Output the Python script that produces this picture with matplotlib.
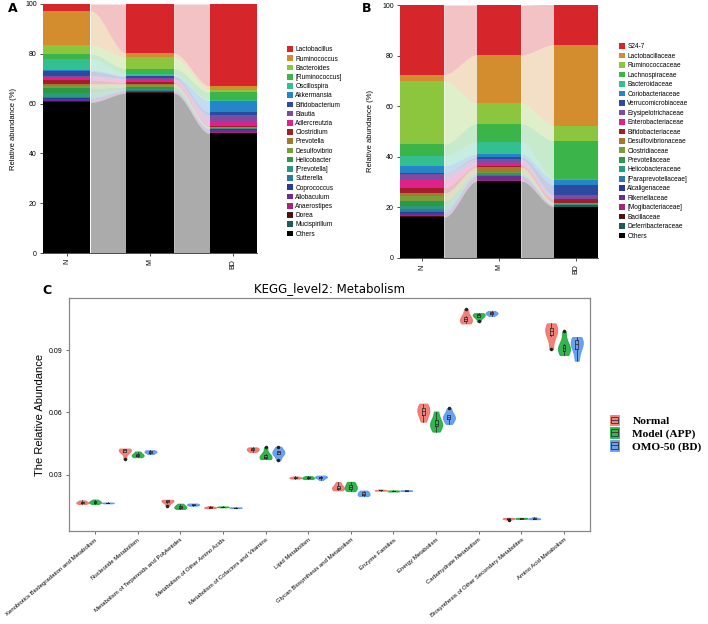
import numpy as np
import matplotlib
matplotlib.use("Agg")
from matplotlib import pyplot as plt
from matplotlib.patches import Patch, Rectangle
from matplotlib.lines import Line2D
from matplotlib.legend_handler import HandlerBase

SANS = ['Liberation Sans', 'DejaVu Sans']

# ---------------- data: panel A (genus level) ----------------
groups = ["N", "M", "BD"]
genus_names = ["Lactobacillus", "Ruminococcus", "Bacteroides", "[Ruminococcus]", "Oscillospira",
               "Akkermansia", "Bifidobacterium", "Blautia", "Adlercreutzia", "Clostridium",
               "Prevotella", "Desulfovibrio", "Helicobacter", "[Prevotella]", "Sutterella",
               "Coprococcus", "Allobaculum", "Anaerostipes", "Dorea", "Mucispirillum", "Others"]
genus_N = [2.7, 13.8, 3.5, 2.0, 4.5, 0.5, 1.8, 0.7, 1.0, 1.5, 0.8, 1.0, 2.0, 1.5, 0.6,
           0.3, 0.6, 0.3, 0.2, 0.2, 60.5]
genus_M = [19.7, 1.7, 4.6, 2.2, 0.6, 0.3, 0.8, 0.4, 1.2, 0.5, 0.4, 1.0, 0.8, 0.3, 0.3,
           0.2, 0.3, 0.2, 0.1, 0.2, 64.2]
genus_BD = [32.9, 1.5, 1.0, 3.2, 0.3, 4.6, 1.2, 2.8, 1.3, 0.4, 0.2, 0.3, 0.2, 0.2, 0.3,
            0.2, 1.0, 0.2, 0.1, 0.1, 48.0]

# ---------------- data: panel B (family level) ----------------
family_names = ["S24-7", "Lactobacillaceae", "Ruminococcaceae", "Lachnospiraceae", "Bacteroidaceae",
                "Coriobacteriaceae", "Verrucomicrobiaceae", "Erysipelotrichaceae", "Enterobacteriaceae",
                "Bifidobacteriaceae", "Desulfovibrionaceae", "Clostridiaceae", "Prevotellaceae",
                "Helicobacteraceae", "[Paraprevotellaceae]", "Alcaligenaceae", "Rikenellaceae",
                "[Mogibacteriaceae]", "Bacillaceae", "Deferribacteraceae", "Others"]
family_N = [27.5, 2.6, 24.9, 4.6, 4.0, 3.0, 0.3, 2.3, 3.0, 2.2, 1.2, 1.9, 1.8, 1.4, 1.3,
            0.4, 0.8, 0.3, 0.2, 0.2, 16.1]
family_M = [19.7, 19.1, 8.1, 7.2, 4.8, 1.3, 0.8, 1.3, 1.2, 0.6, 1.9, 0.5, 0.4, 0.3, 0.3,
            0.2, 1.4, 0.3, 0.1, 0.1, 30.4]
family_BD = [16.0, 32.0, 5.9, 15.0, 0.4, 2.2, 4.0, 1.3, 0.2, 1.4, 0.2, 0.3, 0.1, 0.3, 0.1,
             0.1, 0.2, 0.1, 0.1, 0.1, 20.3]

palette = ["#d7262b", "#d38d2f", "#8cc63f", "#3bb54a", "#33bf8f", "#2486c8", "#2e4aa0",
           "#7c4ca0", "#e0218a", "#a21f2a", "#a37a2c", "#7a9d3a", "#2a9a48", "#2b9a7b",
           "#2a7ba0", "#2a3a9a", "#6d2c91", "#a3267a", "#4a1414", "#1e5a56", "#000000"]

# ---------------- data: panel C (KEGG level 2) ----------------
kegg_cats = ["Xenobiotics Biodegradation and Metabolism", "Nucleotide Metabolism",
             "Metabolism of Terpenoids and Polyketides", "Metabolism of Other Amino Acids",
             "Metabolism of Cofactors and Vitamins", "Lipid Metabolism",
             "Glycan Biosynthesis and Metabolism", "Enzyme Families", "Energy Metabolism",
             "Carbohydrate Metabolism", "Biosynthesis of Other Secondary Metabolites",
             "Amino Acid Metabolism"]
normal_vals = [
    [0.0160, 0.0164, 0.0166, 0.0168, 0.0172, 0.0177],
    [0.0376, 0.0410, 0.0415, 0.0419, 0.0423, 0.0426],
    [0.0152, 0.0166, 0.0172, 0.0175, 0.0178, 0.0180],
    [0.0140, 0.0142, 0.0143, 0.0144, 0.0146, 0.0150],
    [0.0410, 0.0416, 0.0420, 0.0424, 0.0428, 0.0432],
    [0.0282, 0.0284, 0.0286, 0.0287, 0.0289, 0.0292],
    [0.0226, 0.0230, 0.0236, 0.0241, 0.0250, 0.0265],
    [0.0224, 0.0225, 0.0226, 0.0226, 0.0227, 0.0229],
    [0.0556, 0.0585, 0.0600, 0.0612, 0.0625, 0.0642],
    [0.1028, 0.1036, 0.1044, 0.1052, 0.1064, 0.1096],
    [0.0084, 0.0088, 0.0089, 0.0090, 0.0091, 0.0093],
    [0.0905, 0.0965, 0.0985, 0.0995, 0.1010, 0.1028]]
model_vals = [
    [0.0160, 0.0165, 0.0168, 0.0170, 0.0174, 0.0181],
    [0.0385, 0.0390, 0.0393, 0.0397, 0.0403, 0.0412],
    [0.0136, 0.0140, 0.0144, 0.0148, 0.0153, 0.0161],
    [0.0144, 0.0145, 0.0146, 0.0146, 0.0147, 0.0148],
    [0.0376, 0.0380, 0.0384, 0.0390, 0.0400, 0.0433],
    [0.0280, 0.0282, 0.0285, 0.0287, 0.0290, 0.0294],
    [0.0222, 0.0230, 0.0238, 0.0245, 0.0256, 0.0266],
    [0.0220, 0.0221, 0.0222, 0.0223, 0.0224, 0.0225],
    [0.0508, 0.0530, 0.0540, 0.0550, 0.0565, 0.0604],
    [0.1038, 0.1058, 0.1064, 0.1068, 0.1072, 0.1077],
    [0.0088, 0.0089, 0.0090, 0.0091, 0.0092, 0.0093],
    [0.0876, 0.0895, 0.0905, 0.0915, 0.0930, 0.0989]]
bd_vals = [
    [0.0163, 0.0164, 0.0165, 0.0165, 0.0166, 0.0167],
    [0.0400, 0.0406, 0.0409, 0.0412, 0.0415, 0.0418],
    [0.0152, 0.0154, 0.0156, 0.0158, 0.0160, 0.0162],
    [0.0140, 0.0141, 0.0142, 0.0142, 0.0143, 0.0144],
    [0.0370, 0.0398, 0.0405, 0.0410, 0.0414, 0.0435],
    [0.0276, 0.0284, 0.0288, 0.0290, 0.0292, 0.0296],
    [0.0198, 0.0202, 0.0207, 0.0212, 0.0218, 0.0224],
    [0.0222, 0.0223, 0.0224, 0.0224, 0.0225, 0.0226],
    [0.0545, 0.0565, 0.0573, 0.0580, 0.0590, 0.0620],
    [0.1064, 0.1072, 0.1075, 0.1078, 0.1082, 0.1088],
    [0.0087, 0.0088, 0.0089, 0.0090, 0.0092, 0.0096],
    [0.0849, 0.0900, 0.0920, 0.0935, 0.0950, 0.0962]]
kegg_groups = ["Normal", "Model (APP)", "OMO-50 (BD)"]
kegg_colors = ["#f0736a", "#1fad3d", "#5c97ee"]

BAR_W = 0.57


def alluvial(ax, columns, colors):
    vals = np.array(columns)             # groups x taxa
    vals = vals[:, ::-1]                 # stack Others first
    cols = colors[::-1]
    tops = np.cumsum(vals, axis=1)
    bots = tops - vals
    x = np.arange(len(columns))
    for k in range(vals.shape[1]):
        ax.bar(x, vals[:, k], bottom=bots[:, k], width=BAR_W, color=cols[k], lw=0, zorder=3)
        for j in range(len(columns) - 1):
            t = np.linspace(0, 1, 60)
            s = 3 * t ** 2 - 2 * t ** 3
            xs = (j + BAR_W / 2) + (1 - BAR_W) * t
            lo = bots[j, k] + (bots[j + 1, k] - bots[j, k]) * s
            hi = tops[j, k] + (tops[j + 1, k] - tops[j, k]) * s
            a = 0.33 if k == 0 else 0.28
            ax.fill_between(xs, lo, hi, color=cols[k], alpha=a, lw=0, zorder=2)
    ax.set_xlim(-BAR_W / 2, len(columns) - 1 + BAR_W / 2)
    ax.set_ylim(0, 100)
    ax.set_xticks(x)
    ax.set_xticklabels(groups, rotation=90, fontsize=5, family=SANS)
    ax.set_yticks([0, 20, 40, 60, 80, 100])
    ax.set_yticklabels(["0", "20", "40", "60", "80", "100"], fontsize=5, family=SANS)
    ax.tick_params(length=2.5, width=0.6, pad=2, color="#333333")
    for sp in ["top", "right"]:
        ax.spines[sp].set_visible(False)
    for sp in ["left", "bottom"]:
        ax.spines[sp].set_linewidth(0.6)
        ax.spines[sp].set_color("#333333")
    ax.set_ylabel("Relative abundance (%)", fontsize=5.5, family=SANS, labelpad=6)


fig = plt.figure(figsize=(7.08, 6.24), dpi=100)

# ---- panel A ----
axA = fig.add_axes([43 / 708, 1 - 253 / 624, 214 / 708, 249 / 624])
alluvial(axA, [genus_N, genus_M, genus_BD], palette)
hA = [Patch(facecolor=c, edgecolor="none") for c in palette]
axA.legend(hA, genus_names, loc="upper left", bbox_to_anchor=(284 / 708, 1 - 43 / 624),
           bbox_transform=fig.transFigure, frameon=False, handlelength=0.95,
           handleheight=0.95, handletextpad=0.3, labelspacing=0.33, borderpad=0,
           prop={"family": SANS, "size": 4.7})

# ---- panel B ----
axB = fig.add_axes([400 / 708, 1 - 258 / 624, 198 / 708, 253 / 624])
alluvial(axB, [family_N, family_M, family_BD], palette)
hB = [Patch(facecolor=c, edgecolor="none") for c in palette]
axB.legend(hB, family_names, loc="upper left", bbox_to_anchor=(616 / 708, 1 - 40 / 624),
           bbox_transform=fig.transFigure, frameon=False, handlelength=0.95,
           handleheight=0.95, handletextpad=0.3, labelspacing=0.37, borderpad=0,
           prop={"family": SANS, "size": 4.7})

fig.text(8 / 708, 1 - 9 / 624, "A", fontsize=9, fontweight="bold", va="center")
fig.text(362 / 708, 1 - 8 / 624, "B", fontsize=9, fontweight="bold", va="center")
fig.text(42 / 708, 1 - 291 / 624, "C", fontsize=9, fontweight="bold", va="center")

# ---- panel C ----
axC = fig.add_axes([69 / 708, 1 - 531 / 624, 521 / 708, 233 / 624])
offsets = [-0.3, 0.0, 0.3]
xc = np.arange(len(kegg_cats))
for data, off, col in zip([normal_vals, model_vals, bd_vals], offsets, kegg_colors):
    pos = xc + off
    vp = axC.violinplot(data, positions=pos, widths=0.28, showextrema=False)
    for body in vp["bodies"]:
        body.set_facecolor(col)
        body.set_edgecolor(col)
        body.set_alpha(0.9)
        body.set_linewidth(0.8)
    axC.boxplot(data, positions=pos, widths=0.07, patch_artist=False, manage_ticks=False,
                boxprops=dict(color="#222222", lw=0.5), whiskerprops=dict(color="#222222", lw=0.5),
                capprops=dict(lw=0), medianprops=dict(color="#222222", lw=0.5),
                flierprops=dict(marker="o", markersize=1.5, markerfacecolor="#222222",
                                markeredgecolor="#222222"))
axC.set_xlim(-0.61, len(kegg_cats) - 1 + 0.61)
axC.set_ylim(0.003, 0.115)
axC.set_yticks([0.03, 0.06, 0.09])
axC.set_yticklabels(["0.03", "0.06", "0.09"], fontsize=5, family=SANS)
axC.set_xticks(xc)
axC.set_xticklabels(kegg_cats, rotation=40, ha="right", rotation_mode="anchor",
                    fontsize=4.3, family=SANS)
axC.tick_params(length=2.5, width=0.6, color="#555555", pad=2)
for sp in axC.spines.values():
    sp.set_color("#888888")
    sp.set_linewidth(0.9)
axC.set_ylabel("The Relative Abundance", fontsize=8, family=SANS, labelpad=3)
axC.set_title("KEGG_level2: Metabolism", fontsize=8.5, pad=4)


class HandlerViolinBox(HandlerBase):
    def create_artists(self, legend, orig_handle, xdescent, ydescent, width, height, fontsize, trans):
        col = orig_handle.get_facecolor()
        r = Rectangle((-xdescent, -ydescent), width, height, facecolor=col, alpha=0.9,
                      edgecolor=col, lw=0.6, transform=trans)
        b = Rectangle((-xdescent + width * 0.15, -ydescent + height * 0.2), width * 0.7, height * 0.6,
                      facecolor="none", edgecolor="#333333", lw=0.6, transform=trans)
        m = Line2D([-xdescent + width * 0.15, -xdescent + width * 0.85],
                   [-ydescent + height * 0.5] * 2, color="#333333", lw=0.6, transform=trans)
        return [r, b, m]


hC = [Patch(facecolor=c) for c in kegg_colors]
axC.legend(hC, kegg_groups, loc="upper left", bbox_to_anchor=(604 / 708, 1 - 409 / 624),
           bbox_transform=fig.transFigure, frameon=False, handlelength=0.85, handleheight=1.0,
           handletextpad=1.15, labelspacing=0.15, borderpad=0,
           handler_map={Patch: HandlerViolinBox()},
           prop={"family": ["Liberation Serif", "DejaVu Serif"], "weight": "bold", "size": 8.2})

plt.savefig("out.png", dpi=100)
